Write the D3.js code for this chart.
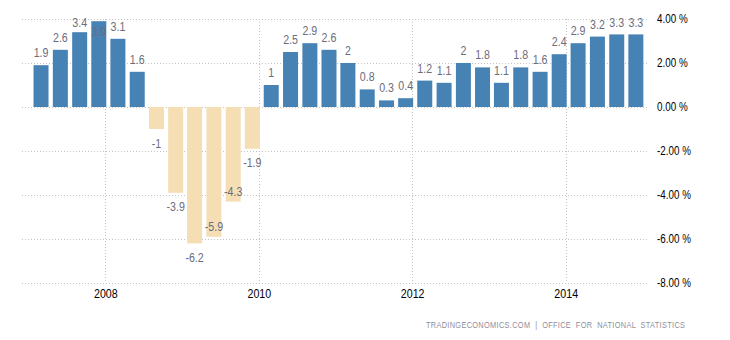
<!DOCTYPE html>
<html>
<head>
<meta charset="utf-8">
<script src="https://cdn.jsdelivr.net/npm/d3@7"></script>
<style>
  html, body { margin: 0; padding: 0; background: #fff; }
  svg { display: block; }
  .lbl { font-family: "Liberation Sans", Arial, sans-serif; }
</style>
</head>
<body>
<svg id="chart" width="730" height="340"></svg>
<script>
// ---- data ----
const quarters = [
  "2007Q1","2007Q2","2007Q3","2007Q4",
  "2008Q1","2008Q2","2008Q3","2008Q4",
  "2009Q1","2009Q2","2009Q3","2009Q4",
  "2010Q1","2010Q2","2010Q3","2010Q4",
  "2011Q1","2011Q2","2011Q3","2011Q4",
  "2012Q1","2012Q2","2012Q3","2012Q4",
  "2013Q1","2013Q2","2013Q3","2013Q4",
  "2014Q1","2014Q2","2014Q3","2014Q4"
];
const growth = [
  1.9, 2.6, 3.4, 3.9,
  3.1, 1.6, -1, -3.9,
  -6.2, -5.9, -4.3, -1.9,
  1, 2.5, 2.9, 2.6,
  2, 0.8, 0.3, 0.4,
  1.2, 1.1, 2, 1.8,
  1.1, 1.8, 1.6, 2.4,
  2.9, 3.2, 3.3, 3.3
];
const yTicks = [-8, -6, -4, -2, 0, 2, 4];
const xTickYears = [2008, 2010, 2012, 2014];
const labelsInside = ["2007Q4", "2009Q2", "2009Q3"];
const sourceText = "TRADINGECONOMICS.COM  |  OFFICE  FOR  NATIONAL  STATISTICS";

// ---- layout ----
const plotLeft = 22, plotRight = 649, plotTop = 19, plotBottom = 283;
const posColor = "#4682b4", negColor = "#f5deb3";
const barW = 15;
const squeeze = 0.82;
const narrow = `scale(${squeeze},1)`;

const svg = d3.select("#chart");

// bar centre: first day of the last month of each quarter
const parseQ = s => new Date(+s.slice(0, 4), (+s.slice(5)) * 3 - 1, 1);
const data = quarters.map((q, i) => ({ q, date: parseQ(q), v: growth[i] }));

const x = d3.scaleTime()
  .domain([new Date(2008, 0, 1), new Date(2014, 0, 1)])
  .range([105.3, 565.7]);
const y = d3.scaleLinear().domain([-8, 4]).range([plotBottom, plotTop]);

// grid
const grid = svg.append("g");
grid.selectAll("line.h").data(yTicks).join("line")
  .attr("x1", plotLeft).attr("x2", plotRight)
  .attr("y1", d => Math.round(y(d)) + 0.5).attr("y2", d => Math.round(y(d)) + 0.5)
  .attr("stroke", "#c4c4c4").attr("stroke-width", 1).attr("stroke-dasharray", "1,2");
grid.selectAll("line.v").data(xTickYears).join("line")
  .attr("x1", d => Math.round(x(new Date(d, 0, 1))) + 0.5)
  .attr("x2", d => Math.round(x(new Date(d, 0, 1))) + 0.5)
  .attr("y1", plotTop).attr("y2", plotBottom)
  .attr("stroke", "#c4c4c4").attr("stroke-width", 1).attr("stroke-dasharray", "1,2");

// bars
svg.append("g").selectAll("rect").data(data).join("rect")
  .attr("x", d => x(d.date) - barW / 2)
  .attr("width", barW)
  .attr("y", d => Math.min(y(d.v), y(0)))
  .attr("height", d => Math.abs(y(d.v) - y(0)))
  .attr("fill", d => d.v >= 0 ? posColor : negColor);

// data labels
const labelY = d => {
  const end = y(d.v);
  const inside = labelsInside.includes(d.q);
  if (d.v >= 0) return inside ? end + 10 : Math.max(end - 12.5, 22);
  return inside ? end - 10 : end + 14;
};
svg.append("g").selectAll("text").data(data).join("text")
  .attr("class", "lbl")
  .attr("transform", d => `translate(${x(d.date)},${labelY(d)}) ${narrow}`)
  .attr("dy", "0.35em")
  .attr("text-anchor", "middle")
  .attr("font-size", 13)
  .attr("fill", "#6c6c7c")
  .text(d => String(d.v));

// right axis
const yAxis = d3.axisRight(y).tickValues(yTicks)
  .tickFormat(d => d.toFixed(2) + " %").tickSize(0).tickPadding(0);
const ya = svg.append("g").attr("transform", `translate(657,0)`).call(yAxis);
ya.select(".domain").remove();
ya.selectAll("text").attr("class", "lbl").attr("font-size", 12).attr("fill", "#000")
  .attr("transform", narrow);

// bottom axis
const xAxis = d3.axisBottom(x).tickValues(xTickYears.map(yv => new Date(yv, 0, 1)))
  .tickFormat(d3.timeFormat("%Y")).tickSize(0).tickPadding(0);
const xa = svg.append("g").attr("transform", `translate(0,289)`).call(xAxis);
xa.select(".domain").remove();
xa.selectAll("text").attr("class", "lbl").attr("font-size", 13).attr("fill", "#000")
  .attr("dy", "0.71em").attr("transform", narrow);

// source
svg.append("text")
  .attr("class", "lbl")
  .attr("transform", `translate(426,328.3) ${narrow}`)
  .attr("font-size", 9)
  .attr("fill", "#8e8e9c")
  .attr("textLength", 259 / squeeze).attr("lengthAdjust", "spacing")
  .style("white-space", "pre")
  .text(sourceText);
</script>
</body>
</html>
